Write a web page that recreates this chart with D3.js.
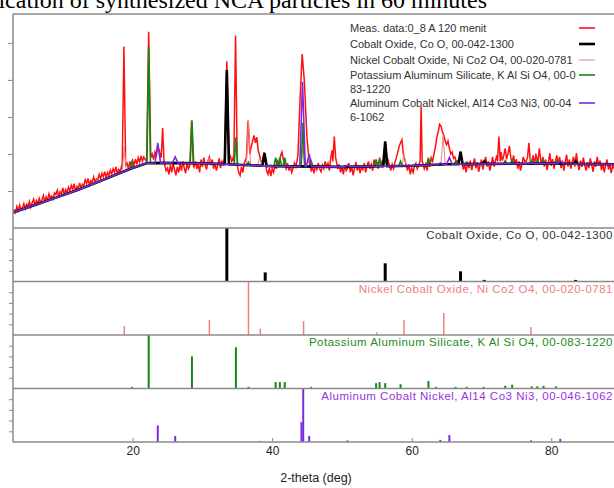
<!DOCTYPE html>
<html>
<head>
<meta charset="utf-8">
<script src="https://cdn.jsdelivr.net/npm/d3@7"></script>
<style>
body{margin:0;background:#fff;overflow:hidden}
text{font-family:Arial,"Liberation Sans",sans-serif}
</style>
</head>
<body>
<div class="div_d3"></div>
<script>

// ---- data ----
const titleText = "Phase identification of synthesized NCA particles in 60 minutes"
const xLabel = "2-theta (deg)"
const xTicks = [20, 40, 60, 80]
const mainTicks = [1, 2, 3, 4, 5]
const subTicks = [20, 40, 60, 80]

// background under the fitted patterns (deg, intensity)
const bgPoints = [[2.85,0.42],[6,0.62],[9,0.82],[12,1.02],[15,1.24],[18,1.47],[20,1.62],[22,1.75],[24,1.76],
  [30,1.75],[35,1.71],[40,1.67],[50,1.65],[60,1.68],[65,1.72],[70,1.73],[80,1.74],[90,1.72]]

// measured data, every 0.2 deg starting at 3.0 (one row = 2 deg)
const measStart = 3.0, measStep = 0.2
const measBase = [
  0.5,0.42,0.58,0.47,0.62,0.5,0.55,0.66,0.52,0.64,
  0.6,0.72,0.56,0.68,0.78,0.6,0.74,0.65,0.8,0.68,
  0.76,0.88,0.7,0.84,0.75,0.92,0.8,0.86,0.78,0.95,
  0.9,1.02,0.84,0.98,0.92,1.08,0.9,1.04,0.95,1.1,
  1.0,1.15,1.04,1.2,0.98,1.12,1.06,1.22,1.08,1.18,
  1.14,1.3,1.2,1.34,1.16,1.28,1.22,1.38,1.25,1.32,
  1.3,1.45,1.32,1.48,1.38,1.52,1.36,1.5,1.42,1.56,
  1.46,1.6,1.5,1.65,1.48,1.58,1.52,1.66,1.6,1.6,
  1.62,1.75,1.6,1.8,1.66,1.82,1.7,1.86,1.72,1.9,
  1.78,1.95,1.8,1.92,1.85,1.8,1.9,1.85,1.9,2.0,
  1.85,2.05,1.95,2.2,2.1,1.95,2.0,1.85,1.7,1.55,
  1.62,1.45,1.7,1.5,1.75,1.58,1.42,1.65,1.5,1.72,
  1.55,1.8,1.62,1.48,1.75,1.6,1.85,1.7,1.55,1.65,
  1.8,1.6,1.72,1.5,1.85,1.65,1.9,1.7,1.58,1.82,
  1.92,1.7,1.85,1.6,1.75,1.55,1.7,1.88,1.62,1.8,
  1.72,1.9,2.0,2.0,2.0,1.95,1.8,1.9,1.8,1.8,
  1.7,1.5,1.42,1.65,1.5,1.75,1.85,2.0,2.2,2.05,
  2.2,2.35,2.5,2.3,2.45,2.1,1.95,1.8,1.85,1.9,
  1.7,1.55,1.45,1.62,1.4,1.6,1.5,1.72,1.6,1.8,
  1.7,1.95,2.05,1.85,1.7,1.6,1.75,1.55,1.68,1.5,
  1.62,1.75,1.65,1.85,2.0,2.0,2.0,2.0,2.0,2.0,
  2.0,2.0,1.7,1.55,1.62,1.48,1.7,1.58,1.75,1.6,
  1.52,1.7,1.6,1.8,1.65,1.75,1.55,1.9,2.1,1.95,
  1.9,1.8,1.6,1.72,1.5,1.65,1.45,1.7,1.55,1.62,
  1.75,1.5,1.68,1.42,1.6,1.78,1.55,1.7,1.48,1.65,
  1.58,1.75,1.5,1.68,1.8,1.6,1.72,1.55,1.85,1.65,
  1.78,1.6,1.9,1.7,1.82,1.8,1.8,1.8,1.85,1.7,
  1.55,1.72,1.6,1.78,1.9,2.05,2.2,2.3,2.38,2.0,
  1.85,1.7,1.55,1.72,1.45,1.62,1.5,1.68,1.75,1.6,
  1.7,1.8,1.8,1.75,1.6,1.72,1.55,1.8,1.65,1.9,
  1.8,2.0,2.2,2.45,2.6,2.8,2.75,2.6,2.5,2.35,
  2.25,2.35,2.15,2.0,2.05,1.88,1.92,1.78,1.82,1.88,
  1.8,1.8,1.58,1.7,1.5,1.78,1.62,1.82,1.56,1.72,
  1.88,1.62,1.78,1.52,1.7,1.85,1.58,1.75,1.92,1.66,
  1.8,1.55,1.72,1.92,1.66,1.82,1.96,1.8,1.8,2.05,
  1.82,1.96,2.15,1.86,2.0,2.22,1.9,1.76,1.96,1.72,
  1.86,1.6,1.8,1.55,1.72,1.92,1.8,1.8,1.82,1.68,
  1.8,1.76,1.96,1.7,2.0,1.8,1.8,1.8,1.76,1.92,
  1.66,1.85,1.56,1.78,2.02,1.68,1.86,1.6,1.8,1.96,
  1.72,1.92,1.62,1.82,1.55,1.78,1.98,1.66,1.85,1.6,
  1.78,1.92,1.66,2.02,1.75,1.56,1.82,1.65,1.9,1.7,
  1.55,1.78,1.62,1.88,1.7,1.52,1.8,1.65,1.92,1.68,
  1.82,1.56,1.75,1.5,1.7,1.85,1.58,1.72,1.48,1.68,
  1.62,1.78,1.55,1.7,1.58]

// sharp peaks in the measured data
const measPeaks = [
  [[18.5,1.6],[18.75,4.9],[19.0,1.7]],
  [[22.0,1.8],[22.3,5.3],[22.6,1.9]],
  [[24.1,1.9],[24.3,2.7],[24.5,1.8]],
  [[28.2,1.7],[28.45,2.9],[28.7,1.7]],
  [[33.2,1.9],[33.5,4.5],[33.8,2.0]],
  [[34.5,1.8],[34.75,5.2],[35.0,1.7]],
  [[36.3,1.9],[36.55,2.9],[36.8,2.0]],
  [[38.6,1.8],[38.85,2.05],[39.1,1.7]],
  [[43.7,2.0],[44.0,3.5],[44.3,4.7],[44.6,4.0],[45.0,2.4],[45.3,1.8]],
  [[48.7,1.8],[48.9,2.47],[49.1,1.9]],
  [[56.0,1.8],[56.2,2.35],[56.4,1.8]],
  [[61.2,1.8],[61.35,3.28],[61.5,1.8]],
  [[66.8,1.8],[67.0,2.06],[67.2,1.8]],
  [[72.3,1.8],[72.5,2.47],[72.7,1.8]],
  [[76.6,1.9],[76.8,2.3],[77.0,1.8]],
  [[78.1,1.8],[78.3,2.15],[78.5,1.8]]]

// fitted peak tops in the top panel (deg, intensity)
const coOFit = [[33.5,4.27],[38.9,2.02],[56.2,2.33],[67.0,2.06],[70.4,1.8],[83.5,1.8]]
const niCoFit = [[18.8,2.2],[31.0,1.9],[36.6,2.9],[38.2,1.9],[44.4,2.2],[55.0,1.72],[58.9,2.0],[64.5,2.5],[77.1,1.88]]
const kAlSiFit = [[19.9,1.78],[22.3,4.9],[28.5,2.9],[34.8,2.45],[36.6,1.78],[40.5,1.9],[41.1,1.9],[41.8,1.9],
  [44.4,2.84],[45.6,1.8],[54.9,1.85],[55.4,1.85],[56.2,1.85],[58.4,1.8],[62.4,1.9],[66.3,1.8],[67.9,1.78],
  [70.3,1.78],[73.4,1.82],[74.4,1.85],[77.2,1.82],[78.0,1.82],[78.9,1.83],[80.7,1.82]]
const alCoNiFit = [[23.6,2.3],[26.1,1.92],[44.35,3.95],[45.3,2.0],[50.8,1.7],[64.1,1.76],[65.4,1.9],[77.1,1.76],[81.3,1.82]]

// reference sticks (deg, relative intensity %)
const coOSticks = [[33.5,100],[39.0,17],[56.2,34],[67.0,19],[70.4,3],[83.5,3]]
const niCoSticks = [[18.8,17],[31.0,28],[36.6,100],[38.3,12],[44.5,26],[55.0,5],[58.9,28],[64.6,41],[77.1,15]]
const kAlSiSticks = [[19.9,3],[22.3,100],[28.5,60],[34.8,77],[36.6,3],[40.5,12],[41.1,12],[41.8,12],[45.6,3],
  [54.9,10],[55.4,12],[56.2,10],[58.4,8],[62.4,14],[63.5,3],[66.3,3],[67.9,3],[70.3,3],[73.4,5],[74.4,7],
  [77.2,4],[78.0,4],[78.9,5],[80.7,4]]
const alCoNiSticks = [[23.6,31],[26.1,11],[38.2,2],[44.2,37],[44.45,100],[45.3,11],[50.8,3],[64.1,4],[65.4,13],[77.1,3],[81.3,6]]

const legendNames = [
  ["Meas. data:0_8 A 120 menit"],
  ["Cobalt Oxide, Co O, 00-042-1300"],
  ["Nickel Cobalt Oxide, Ni Co2 O4, 00-020-0781"],
  ["Potassium Aluminum Silicate, K Al Si O4, 00-0", "83-1220"],
  ["Aluminum Cobalt Nickel, Al14 Co3 Ni3, 00-04", "6-1062"]]
const panelNames = [
  "Cobalt Oxide, Co O, 00-042-1300",
  "Nickel Cobalt Oxide, Ni Co2 O4, 00-020-0781",
  "Potassium Aluminum Silicate, K Al Si O4, 00-083-1220",
  "Aluminum Cobalt Nickel, Al14 Co3 Ni3, 00-046-1062"]

// ---- layout ----
const W = 614, H = 488
const plotLeft = 13, plotRight = 621, plotTop = 14, mainBottom = 228, subH = 53.5
const frameColor = "#8a8a8a"

const svg = d3.select(".div_d3")
  .append("svg")
    .attr("width", W)
    .attr("height", H)

svg.append("rect").attr("width", W).attr("height", H).attr("fill", "#fff")

const x = d3.scaleLinear().domain([2.85, 90]).range([plotLeft, plotRight])
const yMain = d3.scaleLinear().domain([0, 5.78]).range([mainBottom, plotTop])
const bgScale = d3.scaleLinear().domain(bgPoints.map(d => d[0])).range(bgPoints.map(d => d[1]))

// title, cut off at the top left like the screenshot
svg.append("text")
  .attr("x", 487).attr("y", 7.5)
  .attr("text-anchor", "end")
  .style("font-family", "'Liberation Serif','Times New Roman',serif")
  .style("font-size", "24px")
  .text(titleText)

svg.append("clipPath").attr("id", "mainclip")
  .append("rect").attr("x", plotLeft).attr("y", plotTop).attr("width", plotRight - plotLeft).attr("height", mainBottom - plotTop)

const mainG = svg.append("g").attr("clip-path", "url(#mainclip)")

// measured series: base noise + peaks
function measuredPoints(){
  let spans = measPeaks.map(g => [g[0][0], g[g.length - 1][0]])
  let pts = []
  measBase.forEach((v, i) => {
    let d = measStart + i * measStep
    let inside = spans.some(s => d >= s[0] - 0.01 && d <= s[1] + 0.01)
    if(!inside) pts.push([d, v])
  })
  for(let g of measPeaks) pts = pts.concat(g)
  return pts.sort((a, b) => a[0] - b[0])
}

// fitted pattern = background with narrow peaks on it
function fitPoints(peaks, w){
  let pts = bgPoints.filter(b => !peaks.some(p => Math.abs(b[0] - p[0]) <= w))
  for(let p of peaks){
    pts.push([p[0] - w, bgScale(p[0] - w)])
    pts.push([p[0], p[1]])
    pts.push([p[0] + w, bgScale(p[0] + w)])
  }
  return pts.sort((a, b) => a[0] - b[0])
}

const line = d3.line().x(d => x(d[0])).y(d => yMain(d[1]))

mainG.append("path")
  .attr("d", line(measuredPoints()))
  .attr("fill", "none").attr("stroke", "#ff1010").attr("stroke-width", 1.5)

const fits = [
  {pts: niCoFit, w: 0.3, color: "#f08080", sw: 1},
  {pts: kAlSiFit, w: 0.25, color: "#118811", sw: 1.6},
  {pts: coOFit, w: 0.3, color: "#000", sw: 2.6},
  {pts: alCoNiFit, w: 0.4, color: "#7a2be0", sw: 1.6}]

for(let f of fits){
  mainG.append("path")
    .attr("d", line(fitPoints(f.pts, f.w)))
    .attr("fill", "none").attr("stroke", f.color).attr("stroke-width", f.sw)
}

// legend
const legColors = ["#ff1010", "#000", "#f08080", "#118811", "#7a2be0"]
const legWidths = [1.6, 2.6, 1, 1.6, 1.6]
const legY = [28, 44, 60, 75, 103]
legendNames.forEach((lines, i) => {
  lines.forEach((t, j) => {
    svg.append("text")
      .attr("x", 350).attr("y", legY[i] + 4 + j * 13.5)
      .style("font-size", "11px").attr("fill", "#333")
      .text(t)
  })
  svg.append("line")
    .attr("x1", 579).attr("x2", 595)
    .attr("y1", legY[i]).attr("y2", legY[i])
    .attr("stroke", legColors[i]).attr("stroke-width", legWidths[i])
})

// stick panels
const sticks = [coOSticks, niCoSticks, kAlSiSticks, alCoNiSticks]
const stickColors = ["#000", "#f08080", "#118811", "#7a2be0"]
const stickWidths = [3, 1.5, 2, 2]
const labelColors = ["#333", "#f08080", "#228b22", "#9932e0"]

sticks.forEach((s, k) => {
  let t0 = mainBottom + k * subH
  let ySub = d3.scaleLinear().domain([0, 100]).range([t0 + subH, t0])
  svg.append("g")
    .selectAll("line")
    .data(s)
    .enter().append("line")
      .attr("x1", d => x(d[0])).attr("x2", d => x(d[0]))
      .attr("y1", ySub(0)).attr("y2", d => ySub(d[1]))
      .attr("stroke", stickColors[k]).attr("stroke-width", stickWidths[k])

  svg.append("text")
    .attr("x", 613).attr("y", t0 + 11)
    .attr("text-anchor", "end")
    .style("font-size", "11.5px").style("letter-spacing", "0.5px")
    .attr("fill", labelColors[k])
    .text(panelNames[k])

  svg.append("g")
    .attr("transform", `translate(${plotLeft},0)`)
    .call(d3.axisLeft(ySub).tickValues(subTicks).tickFormat("").tickSize(4))
    .call(g => g.select(".domain").remove())
    .call(g => g.selectAll("line").attr("stroke", frameColor))
})

// frame lines
const plotBottom = mainBottom + 4 * subH
const hLines = [plotTop, mainBottom, mainBottom + subH, mainBottom + 2 * subH, mainBottom + 3 * subH, plotBottom]
svg.append("g")
  .selectAll("line")
  .data(hLines)
  .enter().append("line")
    .attr("x1", plotLeft).attr("x2", plotRight)
    .attr("y1", d => d).attr("y2", d => d)
    .attr("stroke", frameColor).attr("stroke-width", 1.5)

svg.append("line")
  .attr("x1", plotLeft).attr("x2", plotLeft).attr("y1", plotTop).attr("y2", plotBottom)
  .attr("stroke", frameColor).attr("stroke-width", 1.5)

svg.append("g")
  .attr("transform", `translate(${plotLeft},0)`)
  .call(d3.axisLeft(yMain).tickValues(mainTicks).tickFormat("").tickSize(5))
  .call(g => g.select(".domain").remove())
  .call(g => g.selectAll("line").attr("stroke", frameColor))

// x axis
svg.append("g")
  .attr("transform", `translate(0,${plotBottom})`)
  .call(d3.axisBottom(x).tickValues(xTicks).tickSize(-4).tickPadding(4))
  .call(g => g.select(".domain").remove())
  .call(g => g.selectAll("line").attr("stroke", frameColor))
  .call(g => g.selectAll("text").style("font-size", "12px").style("font-family", "Arial, 'Liberation Sans', sans-serif").attr("fill", "#222"))

svg.append("text")
  .attr("x", 316).attr("y", 482)
  .attr("text-anchor", "middle")
  .style("font-size", "12.5px").attr("fill", "#222")
  .text(xLabel)

</script>
</body>
</html>
